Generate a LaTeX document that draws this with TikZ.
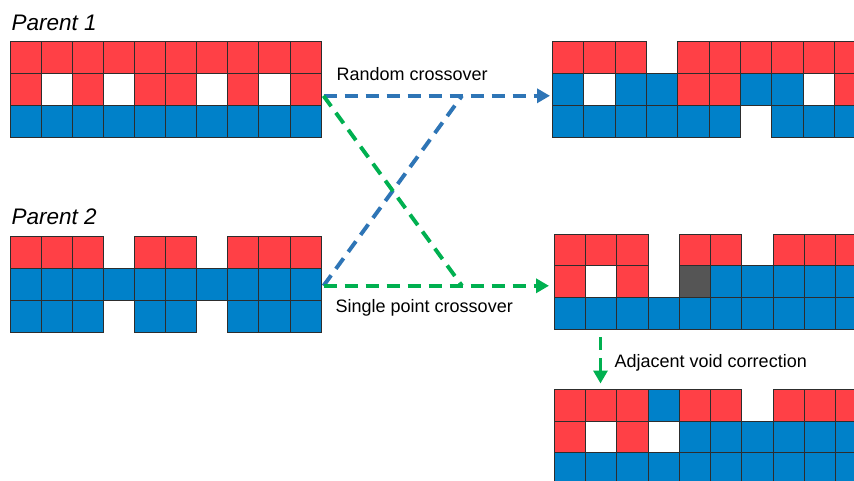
\documentclass[tikz,border=0pt]{standalone}
\usepackage{fontspec}
\setmainfont{Liberation Sans}
\usetikzlibrary{arrows.meta}
\definecolor{cred}{RGB}{255,64,70}
\definecolor{cblue}{RGB}{0,129,201}
\definecolor{cgray}{RGB}{85,85,85}
\definecolor{dblue}{RGB}{46,117,182}
\definecolor{dgreen}{RGB}{0,176,80}
\definecolor{cline}{RGB}{45,45,45}
\tikzset{
  cellR/.style={fill=cred,draw=cline,line width=0.8pt},
  cellB/.style={fill=cblue,draw=cline,line width=0.8pt},
  cellW/.style={fill=white,draw=cline,line width=0.8pt},
  cellG/.style={fill=cgray,draw=cline,line width=0.8pt},
  cellN/.style={},
  lbl/.style={inner sep=0pt,anchor=base west,font=\fontsize{18}{20}\selectfont},
  title/.style={inner sep=0pt,anchor=base west,font=\fontsize{22.5}{26}\selectfont\itshape},
  dashline/.style={line width=3.9pt,dash pattern=on 13pt off 8pt},
  tip/.style={-{Triangle[length=13pt,width=14pt]}}
}
\newcommand\mkgrid[7]{%
  \foreach \c [count=\i from 0] in {#5}{\path[cell\c] ({#1+\i*#3},{#2}) rectangle ++(#3,#4);}
  \foreach \c [count=\i from 0] in {#6}{\path[cell\c] ({#1+\i*#3},{#2+#4}) rectangle ++(#3,#4);}
  \foreach \c [count=\i from 0] in {#7}{\path[cell\c] ({#1+\i*#3},{#2+2*#4}) rectangle ++(#3,#4);}
}
\begin{document}
\begin{tikzpicture}[x=1pt,y=-1pt]
\useasboundingbox[fill=white] (0,0) rectangle (854,481);

% Parent 1
\mkgrid{10}{41}{31.1}{32}{R,R,R,R,R,R,R,R,R,R}{R,W,R,W,R,R,W,R,W,R}{B,B,B,B,B,B,B,B,B,B}
% Parent 2
\mkgrid{10}{236}{31.1}{32}{R,R,R,N,R,R,N,R,R,R}{B,B,B,B,B,B,B,B,B,B}{B,B,B,N,B,B,N,B,B,B}
% Offspring (random crossover)
\mkgrid{552.5}{41.5}{31.3}{32}{R,R,R,N,R,R,R,R,R,R}{B,W,B,B,R,R,B,B,W,R}{B,B,B,B,B,B,N,B,B,B}
% Offspring (single point crossover)
\mkgrid{554}{234}{31.3}{31.7}{R,R,R,N,R,R,N,R,R,R}{R,W,R,N,G,B,B,B,B,B}{B,B,B,B,B,B,B,B,B,B}
% Corrected
\mkgrid{554}{389.3}{31.3}{31.7}{R,R,R,B,R,R,N,R,R,R}{R,W,R,W,B,B,B,B,B,B}{B,B,B,B,B,B,B,B,B,B}

% labels
\node[title] (p1) at (11.5,31) {Parent 1};
\node[title] (p2) at (11.5,224.5) {Parent 2};
\node[lbl] (rc) at (336.5,80.7) {Random crossover};
\node[lbl] (sc) at (335.5,312.5) {Single point crossover};
\node[lbl] (ac) at (614.5,367.5) {Adjacent void correction};

% connector points
\coordinate (a1) at (323.5,95.8);
\coordinate (a2) at (323.5,285.8);
\coordinate (m1) at (462,95.8);
\coordinate (m2) at (462,285.8);
\coordinate (e1) at (550,95.8);
\coordinate (e2) at (549,285.8);
\coordinate (v1) at (600.5,337);
\coordinate (v2) at (600.5,383.5);

% random crossover (blue)
\draw[dashline,dblue,tip] (a1) -- (e1);
\draw[dashline,dblue] (a2) -- (m1);
% single point crossover (green)
\draw[dashline,dgreen,tip] (a2) -- (e2);
\draw[dashline,dgreen] (a1) -- (m2);
% adjacent void correction
\draw[dashline,dgreen,tip] (v1) -- (v2);
\end{tikzpicture}
\end{document}
